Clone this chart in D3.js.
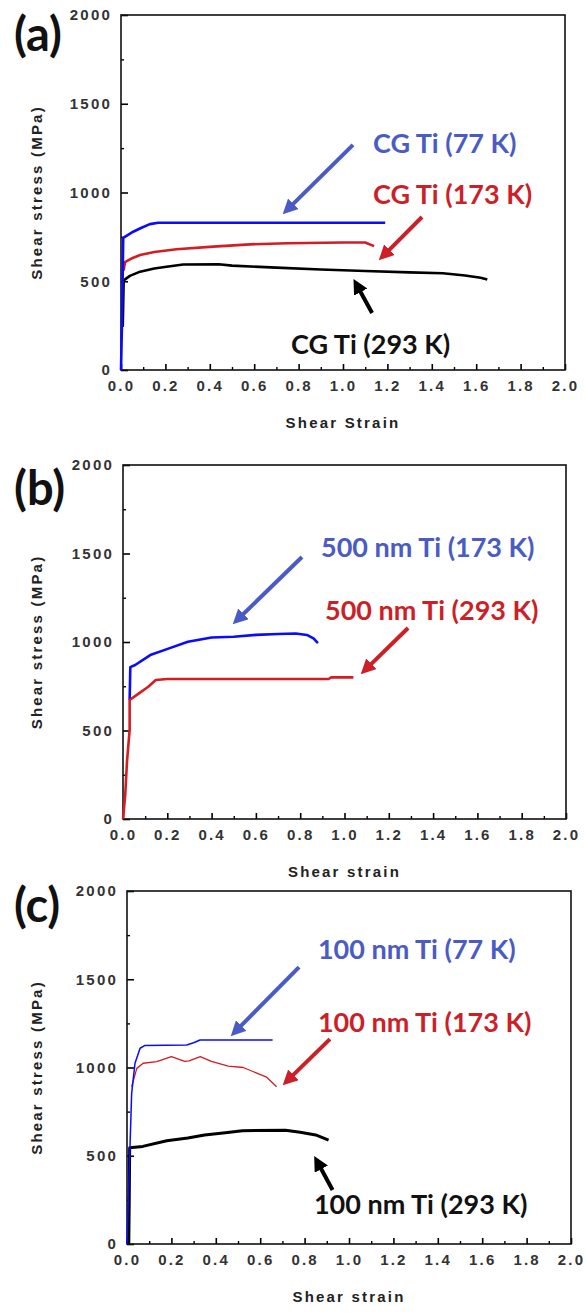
<!DOCTYPE html>
<html>
<head>
<meta charset="utf-8">
<script src="https://cdn.jsdelivr.net/npm/d3@7"></script>
<style>
  body { margin: 0; background: #fff; }
  .tick text { font-family: "Liberation Sans", Arial, sans-serif; font-weight: bold; font-size: 15px; fill: #333; letter-spacing: 2.2px; }
  .axis-title { font-family: "Liberation Sans", Arial, sans-serif; font-weight: bold; font-size: 15px; fill: #222; letter-spacing: 2.2px; }
  .note { font-family: Lato, "Open Sans", sans-serif; font-weight: bold; font-size: 27px; }
  .panel-tag { font-family: Lato, "Open Sans", sans-serif; font-weight: bold; font-size: 47px; fill: #111; }
</style>
</head>
<body>
<script>
// ticks shared by the three panels
var strainTicks = [0, 0.2, 0.4, 0.6, 0.8, 1.0, 1.2, 1.4, 1.6, 1.8, 2.0];
var strainMinor = [0.1, 0.3, 0.5, 0.7, 0.9, 1.1, 1.3, 1.5, 1.7, 1.9];
var stressTicks = [0, 500, 1000, 1500, 2000];
var stressMinor = [250, 750, 1250, 1750];

// (a) coarse grained Ti, [shear strain, shear stress MPa]
var cg77 = [[0, 0], [0.005, 300], [0.01, 744], [0.03, 760], [0.055, 779], [0.09, 800], [0.13, 822], [0.168, 830], [0.6, 830], [1.19, 830]];
var cg173 = [[0.012, 560], [0.018, 608], [0.05, 630], [0.086, 648], [0.15, 665], [0.25, 680], [0.415, 695], [0.58, 708], [0.75, 714], [1.0, 718], [1.1, 718], [1.14, 698]];
var cg293 = [[0.008, 250], [0.012, 505], [0.04, 530], [0.086, 554], [0.15, 572], [0.205, 582], [0.28, 594], [0.44, 596], [0.5, 588], [0.7, 577], [0.9, 566], [1.1, 558], [1.3, 550], [1.45, 545], [1.55, 532], [1.62, 520], [1.65, 510]];

// (b) 500 nm Ti
var nm500_173 = [[0.03, 672], [0.033, 858], [0.055, 870], [0.123, 926], [0.208, 964], [0.293, 1001], [0.4, 1025], [0.5, 1030], [0.6, 1040], [0.7, 1045], [0.78, 1048], [0.83, 1040], [0.86, 1020], [0.88, 994]];
var nm500_293 = [[0, 0], [0.01, 135], [0.018, 324], [0.03, 503], [0.03, 672], [0.072, 710], [0.114, 747], [0.148, 785], [0.2, 791], [0.928, 791], [0.94, 800], [1.04, 800]];

// (c) 100 nm Ti
var nm100_77 = [[0, 0], [0.0135, 551], [0.021, 854], [0.036, 1024], [0.059, 1109], [0.081, 1125], [0.269, 1127], [0.3, 1140], [0.329, 1156], [0.656, 1156]];
var nm100_173 = [[0.021, 891], [0.044, 995], [0.073, 1024], [0.134, 1033], [0.2, 1062], [0.26, 1035], [0.28, 1037], [0.33, 1062], [0.38, 1035], [0.456, 1008], [0.524, 1000], [0.57, 976], [0.629, 945], [0.674, 891]];
var nm100_293 = [[0.008, 0], [0.01, 240], [0.012, 545], [0.071, 553], [0.179, 585], [0.274, 600], [0.35, 617], [0.443, 630], [0.52, 642], [0.714, 645], [0.78, 633], [0.85, 618], [0.908, 589]];

var blue = '#0a0aff', red = '#d41c22', black = '#000';
var noteBlue = '#4a5cc4', noteRed = '#cc1f27';

var panels = [
  { tag: '(a)', tagDy: 36, box: [121, 565, 15, 370], xTitle: 'Shear Strain',
    series: [[cg173, red, 2.6], [cg293, black, 2.6], [cg77, blue, 2.6]],
    notes: [['CG Ti (77 K)', 1.135, 1280, noteBlue], ['CG Ti (173 K)', 1.135, 997, noteRed], ['CG Ti (293 K)', 0.766, 152, '#111']],
    arrows: [[1.045, 1268, 0.725, 873, noteBlue], [1.356, 862, 1.158, 614, noteRed], [1.131, 321, 1.045, 518, '#000']] },
  { tag: '(b)', tagDy: 40, box: [123, 566, 465, 819], xTitle: 'Shear strain',
    series: [[nm500_173, blue, 2.6], [nm500_293, red, 2.6]],
    notes: [['500 nm Ti (173 K)', 0.894, 1537, noteBlue], ['500 nm Ti (293 K)', 0.912, 1181, noteRed]],
    arrows: [[0.808, 1480, 0.492, 1096, noteBlue], [1.287, 1079, 1.07, 814, noteRed]] },
  { tag: '(c)', tagDy: 31, box: [127, 571, 891, 1244], xTitle: 'Shear strain',
    series: [[nm100_293, black, 3], [nm100_173, red, 1.3], [nm100_77, blue, 1.5]],
    notes: [['100 nm Ti (77 K)', 0.86, 1677, noteBlue], ['100 nm Ti (173 K)', 0.86, 1258, noteRed], ['100 nm Ti (293 K)', 0.842, 232, '#111']],
    arrows: [[0.775, 1569, 0.464, 1173, noteBlue], [0.914, 1161, 0.698, 895, noteRed], [0.926, 306, 0.841, 504, '#000']] }
];

var svg = d3.select('body').append('svg')
    .attr('width', 586)
    .attr('height', 1313);

// one arrow head per colour
var defs = svg.append('defs');
[noteBlue, noteRed, '#000'].forEach(function(c, i) {
    defs.append('marker')
        .attr('id', 'head' + i)
        .attr('markerUnits', 'userSpaceOnUse')
        .attr('viewBox', '0 0 10 10')
        .attr('refX', 2).attr('refY', 5)
        .attr('markerWidth', 15).attr('markerHeight', 15)
        .attr('orient', 'auto')
        .append('path')
        .attr('d', 'M0,0 L10,5 L0,10 Z')
        .attr('fill', c);
});
function headFor(c) {
    return c == noteBlue ? 'url(#head0)' : c == noteRed ? 'url(#head1)' : 'url(#head2)';
}

panels.forEach(function(p) {
    var x = d3.scaleLinear().domain([0, 2]).range([p.box[0], p.box[1]]);
    var y = d3.scaleLinear().domain([0, 2000]).range([p.box[3], p.box[2]]);
    var g = svg.append('g');

    // minor ticks first
    g.append('g').attr('transform', 'translate(0,' + p.box[3] + ')')
        .call(d3.axisBottom(x).tickValues(strainMinor).tickSize(-3).tickFormat(''))
        .call(function(a) { a.select('.domain').remove(); a.selectAll('line').attr('stroke-width', 1.4); });
    g.append('g').attr('transform', 'translate(' + p.box[0] + ',0)')
        .call(d3.axisLeft(y).tickValues(stressMinor).tickSize(-3).tickFormat(''))
        .call(function(a) { a.select('.domain').remove(); a.selectAll('line').attr('stroke-width', 1.4); });

    // major ticks with labels
    g.append('g').attr('transform', 'translate(0,' + p.box[3] + ')')
        .call(d3.axisBottom(x).tickValues(strainTicks).tickSize(-6).tickSizeOuter(0).tickPadding(10).tickFormat(d3.format('.1f')))
        .call(function(a) { a.select('.domain').remove(); a.selectAll('line').attr('stroke-width', 1.6); });
    g.append('g').attr('transform', 'translate(' + p.box[0] + ',0)')
        .call(d3.axisLeft(y).tickValues(stressTicks).tickSize(-7).tickSizeOuter(0).tickPadding(9).tickFormat(d3.format('d')))
        .call(function(a) { a.select('.domain').remove(); a.selectAll('line').attr('stroke-width', 1.6); });

    // frame
    g.append('rect')
        .attr('x', p.box[0]).attr('y', p.box[2])
        .attr('width', p.box[1] - p.box[0]).attr('height', p.box[3] - p.box[2])
        .attr('fill', 'none').attr('stroke', '#111').attr('stroke-width', 1.6);

    // curves
    var line = d3.line().x(function(d) { return x(d[0]); }).y(function(d) { return y(d[1]); });
    p.series.forEach(function(s) {
        g.append('path').datum(s[0])
            .attr('d', line)
            .attr('fill', 'none')
            .attr('stroke', s[1])
            .attr('stroke-width', s[2])
            .attr('stroke-linejoin', 'round');
    });

    // arrows and notes
    p.arrows.forEach(function(a) {
        var x1 = x(a[0]), y1 = y(a[1]), x2 = x(a[2]), y2 = y(a[3]);
        var len = Math.hypot(x2 - x1, y2 - y1), cut = 13 / len;
        g.append('line')
            .attr('x1', x1).attr('y1', y1)
            .attr('x2', x2 - (x2 - x1) * cut).attr('y2', y2 - (y2 - y1) * cut)
            .attr('stroke', a[4]).attr('stroke-width', 4)
            .attr('marker-end', headFor(a[4]));
    });
    p.notes.forEach(function(n) {
        g.append('text').attr('class', 'note')
            .attr('x', x(n[1])).attr('y', y(n[2]))
            .attr('dominant-baseline', 'central')
            .attr('fill', n[3])
            .text(n[0]);
    });

    // titles
    g.append('text').attr('class', 'axis-title')
        .attr('text-anchor', 'middle')
        .attr('x', (p.box[0] + p.box[1]) / 2)
        .attr('y', p.box[3] + 58)
        .text(p.xTitle);
    g.append('text').attr('class', 'axis-title')
        .attr('text-anchor', 'middle')
        .attr('transform', 'translate(42,' + (p.box[2] + p.box[3]) / 2 + ') rotate(-90)')
        .text('Shear stress (MPa)');
    g.append('text').attr('class', 'panel-tag')
        .attr('x', 14).attr('y', p.box[2] + p.tagDy)
        .text(p.tag);
});
</script>
</body>
</html>
